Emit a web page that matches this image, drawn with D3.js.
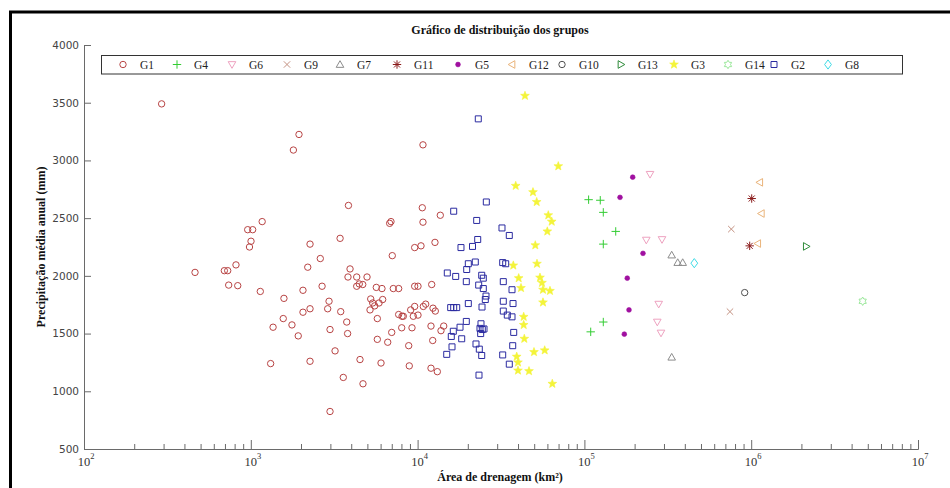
<!DOCTYPE html>
<html>
<head>
<meta charset="utf-8">
<script src="https://cdn.jsdelivr.net/npm/d3@7"></script>
<style>
  body { margin: 0; background: #fff; }
  svg { display: block; }
</style>
</head>
<body>
<svg id="chart" width="950" height="488"></svg>
<script>
// Each group: [drainage area (km²), mean annual precipitation (mm)]
const G1 = [[292,3490],[1945,3225],[1800,3090],[3850,2610],[1170,2470],[958,2400],[1026,2400],[1003,2300],[982,2250],[2265,2275],[3430,2325],[2610,2150],[2195,2075],[463,2030],[694,2045],[727,2045],[815,2095],[737,1920],[835,1915],[1140,1865],[1580,1805],[2055,1875],[2675,1910],[3935,2060],[3825,1990],[2945,1780],[2890,1715],[3460,1690],[2055,1685],[2265,1715],[1565,1630],[1765,1575],[1360,1555],[1925,1480],[2985,1535],[3760,1600],[3805,1500],[3200,1350],[1315,1240],[2265,1260],[3585,1120],[2985,825],[10770,3135],[10670,2590],[13680,2525],[10770,2465],[6800,2455],[6925,2470],[9605,2245],[10480,2260],[12710,2290],[7050,2175],[4315,1990],[4975,1990],[4315,1910],[4470,1930],[4690,1925],[5655,1900],[6115,1890],[7150,1890],[7700,1890],[9605,1910],[10055,1910],[12150,1925],[5235,1800],[5380,1765],[6175,1795],[5870,1765],[5530,1740],[5185,1705],[5735,1630],[7700,1665],[8065,1650],[8210,1650],[9090,1705],[9605,1735],[9425,1650],[10055,1660],[10820,1735],[11180,1755],[12370,1720],[12770,1695],[14340,1565],[13810,1525],[12030,1565],[9255,1550],[8030,1550],[6995,1510],[5735,1450],[6620,1425],[8845,1395],[12320,1440],[4515,1275],[6035,1245],[8915,1220],[12030,1200],[13130,1170],[4705,1065]];
const G2 = [[23110,3360],[25820,2640],[16460,2560],[22610,2480],[32060,2415],[35460,2350],[22930,2315],[18200,2245],[21340,2255],[15070,2025],[16920,1995],[20140,2105],[22180,2120],[19700,2055],[19590,1950],[32370,2115],[33740,2105],[24230,2005],[24770,1980],[23240,1920],[24770,1890],[25710,1825],[25460,1795],[32640,1950],[36810,1880],[32640,1780],[37330,1760],[20140,1760],[24330,1730],[15790,1725],[16460,1725],[17160,1725],[32640,1695],[34500,1660],[36810,1645],[19590,1605],[17960,1555],[16370,1520],[15920,1475],[23990,1585],[23660,1545],[25010,1540],[24430,1535],[23890,1500],[37690,1510],[18380,1455],[16080,1385],[22390,1410],[23440,1365],[14950,1320],[24230,1310],[37170,1395],[32370,1315],[35460,1235],[23340,1140]];
const G3 = [[44040,3560],[69740,2950],[38740,2780],[49180,2725],[51760,2640],[60750,2525],[63680,2470],[59920,2385],[50770,2265],[37480,2090],[51970,2105],[40370,1980],[41680,1895],[54170,1985],[55690,1940],[56460,1880],[62190,1870],[56460,1770],[43260,1645],[43260,1575],[43620,1455],[49870,1340],[57810,1355],[39280,1300],[39980,1250],[39980,1180],[46550,1175],[64210,1065]];
const G4 = [[106000,2660],[124500,2655],[129800,2550],[154100,2385],[129800,2275],[129800,1600],[109100,1515]];
const G5 = [[194800,2855],[163500,2680],[224500,2195],[180700,1980],[185100,1705],[173500,1495]];
const G6 = [[247400,2880],[235000,2310],[291900,2315],[278900,1755],[273500,1600],[287900,1505]];
const G7 = [[333700,2180],[362600,2115],[388400,2115],[333700,1295]];
const G8 = [[455900,2110]];
const G9 = [[760000,2405],[746000,1690]];
const G10 = [[914000,1855]];
const G11 = [[1007000,2670],[979500,2260]];
const G12 = [[1125000,2810],[1150000,2540],[1094000,2280]];
const G13 = [[2140000,2255]];
const G14 = [[4660000,1780]];

// Legend order, marker kind and colour for each group
const groups = [
  { name: "G1",  data: G1,  marker: "circle",   color: "#b84444" },
  { name: "G4",  data: G4,  marker: "plus",     color: "#33cc33" },
  { name: "G6",  data: G6,  marker: "triDown",  color: "#eea2c0" },
  { name: "G9",  data: G9,  marker: "cross",    color: "#c49282" },
  { name: "G7",  data: G7,  marker: "triUp",    color: "#8c8c8c" },
  { name: "G11", data: G11, marker: "asterisk", color: "#8b1c1c" },
  { name: "G5",  data: G5,  marker: "dot",      color: "#a010a0" },
  { name: "G12", data: G12, marker: "triLeft",  color: "#eab47a" },
  { name: "G10", data: G10, marker: "circle",   color: "#505050" },
  { name: "G13", data: G13, marker: "triRight", color: "#2e8b3a" },
  { name: "G3",  data: G3,  marker: "pentagram",color: "#f4f43a" },
  { name: "G14", data: G14, marker: "hexagram", color: "#9be89b" },
  { name: "G2",  data: G2,  marker: "square",   color: "#2a2aa0" },
  { name: "G8",  data: G8,  marker: "diamond",  color: "#3fdbe6" }
];

const yTicks = [500, 1000, 1500, 2000, 2500, 3000, 3500, 4000];
const xMajor = [1e2, 1e3, 1e4, 1e5, 1e6, 1e7];

const chartTitle = "Gráfico de distribuição dos grupos";
const xTitle = "Área de drenagem (km²)";
const yTitle = "Precipitação média anual (mm)";

const svg = d3.select("#chart");
const plotLeft = 84, plotRight = 918, plotTop = 45, plotBottom = 449;

const x = d3.scaleLog().domain([1e2, 1e7]).range([plotLeft, plotRight]);
const y = d3.scaleLinear().domain([500, 4000]).range([plotBottom, plotTop]);

// Figure frame
svg.append("rect")
  .attr("x", 10.5).attr("y", 12)
  .attr("width", 960).attr("height", 500)
  .attr("fill", "none").attr("stroke", "#000").attr("stroke-width", 3);

// Marker shapes centred on the origin
function markerPath(kind, s) {
  const p = pts => "M" + pts.map(q => q[0].toFixed(2) + "," + q[1].toFixed(2)).join("L") + "Z";
  const star = (n, ro, ri) => {
    const a = [];
    for (let i = 0; i < 2 * n; i++) {
      const r = i % 2 ? ri : ro;
      const t = -Math.PI / 2 + i * Math.PI / n;
      a.push([r * Math.cos(t), r * Math.sin(t)]);
    }
    return p(a);
  };
  switch (kind) {
    case "circle": return `M${s},0A${s},${s} 0 1 1 ${-s},0A${s},${s} 0 1 1 ${s},0Z`;
    case "dot": return `M${s},0A${s},${s} 0 1 1 ${-s},0A${s},${s} 0 1 1 ${s},0Z`;
    case "square": return p([[-s,-s],[s,-s],[s,s],[-s,s]]);
    case "plus": return `M${-s},0H${s}M0,${-s}V${s}`;
    case "cross": return `M${-s},${-s}L${s},${s}M${-s},${s}L${s},${-s}`;
    case "asterisk": {
      const d = s * 0.72;
      return `M${-s},0H${s}M0,${-s}V${s}M${-d},${-d}L${d},${d}M${-d},${d}L${d},${-d}`;
    }
    case "triDown": return p([[-s,-0.75*s],[s,-0.75*s],[0,s]]);
    case "triUp": return p([[-s,0.75*s],[s,0.75*s],[0,-s]]);
    case "triLeft": return p([[0.75*s,-s],[0.75*s,s],[-s,0]]);
    case "triRight": return p([[-0.75*s,-s],[-0.75*s,s],[s,0]]);
    case "diamond": return p([[0,-1.35*s],[s,0],[0,1.35*s],[-s,0]]);
    case "pentagram": return star(5, s, s * 0.42);
    case "hexagram": return star(6, s, s * 0.6);
  }
}
const markerSize = { circle: 3.2, dot: 2.4, square: 3, plus: 4.2, cross: 3.2, asterisk: 4.2,
  triDown: 3.8, triUp: 3.8, triLeft: 3.8, triRight: 3.8, diamond: 3.4, pentagram: 4.6, hexagram: 4.2 };
const filled = k => k === "dot" || k === "pentagram";

function drawMarker(sel, grp) {
  sel.attr("d", markerPath(grp.marker, markerSize[grp.marker]))
    .attr("fill", filled(grp.marker) ? grp.color : "none")
    .attr("stroke", grp.color)
    .attr("stroke-width", filled(grp.marker) ? 0.6 : 1);
}

// Axes
const axisColor = "#6a6a6a";
const minorTicks = [];
for (let e = 2; e < 7; e++) for (let m = 2; m <= 9; m++) minorTicks.push(m * Math.pow(10, e));

const xAxisMinor = svg.append("g").attr("transform", `translate(0,${plotBottom})`)
  .call(d3.axisBottom(x).tickValues(minorTicks).tickSize(-5).tickSizeOuter(0).tickFormat(""));
const xAxisMajor = svg.append("g").attr("transform", `translate(0,${plotBottom})`)
  .call(d3.axisBottom(x).tickValues(xMajor).tickSize(-9).tickSizeOuter(0).tickFormat(""));
[xAxisMinor, xAxisMajor].forEach(a => {
  a.selectAll("path, line").attr("stroke", axisColor).attr("stroke-width", 1);
});

// Power-of-ten labels
const xl = svg.append("g").attr("font-family", "'Liberation Serif', serif").attr("fill", "#333");
xMajor.forEach(v => {
  const t = xl.append("text").attr("x", x(v) + 2).attr("y", 466).attr("text-anchor", "middle");
  t.append("tspan").attr("font-size", 12.5).text("10");
  t.append("tspan").attr("font-size", 8.5).attr("dy", -7).text(String(Math.round(Math.log10(v))));
});

const yAxis = svg.append("g").attr("transform", `translate(${plotLeft},0)`)
  .call(d3.axisLeft(y).tickValues(yTicks).tickSize(-7).tickSizeOuter(0).tickPadding(5)
    .tickFormat(d3.format("d")));
yAxis.selectAll("path, line").attr("stroke", axisColor).attr("stroke-width", 1);
yAxis.selectAll("text").attr("font-family", "'DejaVu Sans', sans-serif")
  .attr("font-size", 10.5).attr("fill", "#444");

// Titles
svg.append("text").attr("x", 500).attr("y", 34).attr("text-anchor", "middle")
  .attr("font-family", "'Liberation Serif', serif").attr("font-weight", "bold")
  .attr("font-size", 12).attr("fill", "#111").text(chartTitle);
svg.append("text").attr("x", 500).attr("y", 481).attr("text-anchor", "middle")
  .attr("font-family", "'Liberation Serif', serif").attr("font-weight", "bold")
  .attr("font-size", 12).attr("fill", "#111").text(xTitle);
svg.append("text").attr("transform", `translate(45,${(plotTop + plotBottom) / 2}) rotate(-90)`)
  .attr("text-anchor", "middle")
  .attr("font-family", "'Liberation Serif', serif").attr("font-weight", "bold")
  .attr("font-size", 12).attr("fill", "#111").text(yTitle);

// Points
const plot = svg.append("g");
groups.forEach(grp => {
  plot.append("g").selectAll("path").data(grp.data).join("path")
    .attr("transform", d => `translate(${x(d[0])},${y(d[1])})`)
    .call(drawMarker, grp);
});

// Legend
const legendMarkerX = [123, 177, 232, 287, 340, 397, 458, 512, 562, 621, 674, 728, 774, 828];
const legend = svg.append("g");
legend.append("rect").attr("x", 101.5).attr("y", 55.5).attr("width", 801).attr("height", 18.5)
  .attr("fill", "#fff").attr("stroke", "#333").attr("stroke-width", 1);
groups.forEach((grp, i) => {
  const lx = legendMarkerX[i];
  legend.append("path").attr("transform", `translate(${lx},64.5)`).call(drawMarker, grp);
  legend.append("text").attr("x", lx + 17).attr("y", 68.5)
    .attr("font-family", "'Liberation Serif', serif").attr("font-size", 11.5)
    .attr("fill", "#222").text(grp.name);
});
</script>
</body>
</html>
